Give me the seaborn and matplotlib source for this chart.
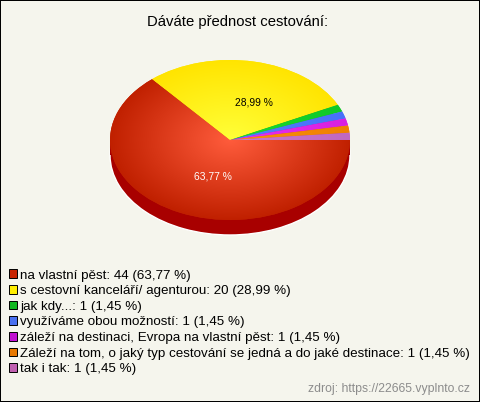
import numpy as np
import matplotlib
matplotlib.use('Agg')
import matplotlib.pyplot as plt
import seaborn as sns
from matplotlib.colors import LinearSegmentedColormap
from matplotlib.patches import Patch, Rectangle

# Data
title = 'Dáváte přednost cestování:'
source = 'zdroj: https://22665.vyplnto.cz'
categories = ['na vlastní pěst', 's cestovní kanceláří/ agenturou', 'jak kdy...',
              'využíváme obou možností', 'záleží na destinaci, Evropa na vlastní pěst',
              'Záleží na tom, o jaký typ cestování se jedná a do jaké destinace', 'tak i tak']
counts = [44, 20, 1, 1, 1, 1, 1]
percents = ['63,77', '28,99', '1,45', '1,45', '1,45', '1,45', '1,45']

# Colours: legend swatch, gradient centre, gradient rim
legend_colors = ['#c82400', '#ffee00', '#10b820', '#4a70f0', '#c010d0', '#e87800', '#c060b0']
center_colors = ['#ff5c3c', '#ffff38', '#18dc30', '#5080ff', '#e830f0', '#f89010', '#cc78cc']
rim_colors = ['#c02000', '#ffe400', '#10c828', '#4870f8', '#d820e0', '#f08000', '#c068c0']
side_color = '#a80000'
bg_color = '#f5f5ed'

W, H = 480, 402
RX, RY, DEPTH = 120, 80, 15
CX, CY = 230, 140

sns.set_theme(style='white')
plt.rcParams['font.family'] = ['Liberation Sans', 'DejaVu Sans']

fig = plt.figure(figsize=((W + 0.01) / 100, (H + 0.01) / 100), dpi=100, facecolor=bg_color,
                 edgecolor='black', linewidth=1.44)
ax = fig.add_axes([(CX - RX) / W, 1 - (CY + RY + DEPTH) / H,
                   2 * RX / W, (2 * RY + DEPTH) / H])
ax.set_facecolor('none')

# side of the pie first, sits under the top face
d = DEPTH / RY
ax.pie([sum(counts)], colors=[side_color], center=(0, -d), radius=1, frame=True)
ax.add_patch(Rectangle((-1, -d), 2, d, color=side_color, lw=0))

wedges, _ = ax.pie(counts, colors=legend_colors, startangle=0, counterclock=False,
                   radius=1, center=(0, 0), frame=True)

# radial gradient on every slice
yy, xx = np.mgrid[-1:1:400j, -1:1:400j]
rr = np.sqrt(xx ** 2 + yy ** 2)
for wedge, c0, c1 in zip(wedges, center_colors, rim_colors):
    wedge.set_facecolor(c1)
    wedge.set_linewidth(0)
    cmap = LinearSegmentedColormap.from_list('g', [c0, c1])
    im = ax.imshow(rr, cmap=cmap, vmin=0, vmax=1, extent=[-1, 1, -1, 1],
                   aspect='auto', origin='lower', zorder=wedge.get_zorder() + 0.1)
    im.set_clip_path(wedge)

ax.set_xlim(-1, 1)
ax.set_ylim(-1 - d, 1)
ax.set_aspect('auto')
ax.axis('off')

ax.text((212.5 - CX) / RX, (CY - 176) / RY, percents[0] + ' %', color='white', fontsize=7.4,
        ha='center', va='center', zorder=10)
ax.text((253.5 - CX) / RX, (CY - 102) / RY, percents[1] + ' %', color='black', fontsize=7.4,
        ha='center', va='center', zorder=10)

fig.text(237.5 / W, 1 - 21.5 / H, title, ha='center', va='center', fontsize=10.73, color='black')
fig.text(470 / W, 1 - 389 / H, source, ha='right', va='center', fontsize=8.82, color='#8c8c8c')

handles = [Patch(facecolor=c, edgecolor='black', linewidth=0.7) for c in legend_colors]
labels = [f'{c}: {n} ({p} %)' for c, n, p in zip(categories, counts, percents)]
fig.legend(handles, labels, loc='upper left', bbox_to_anchor=(9 / W, 1 - 269.5 / H),
           frameon=False, fontsize=9.68, handlelength=0.6, handleheight=0.6,
           handletextpad=0.22, labelspacing=0.27, borderpad=0, borderaxespad=0,
           labelcolor='black')

fig.savefig('out.png', dpi=100, facecolor=bg_color)
